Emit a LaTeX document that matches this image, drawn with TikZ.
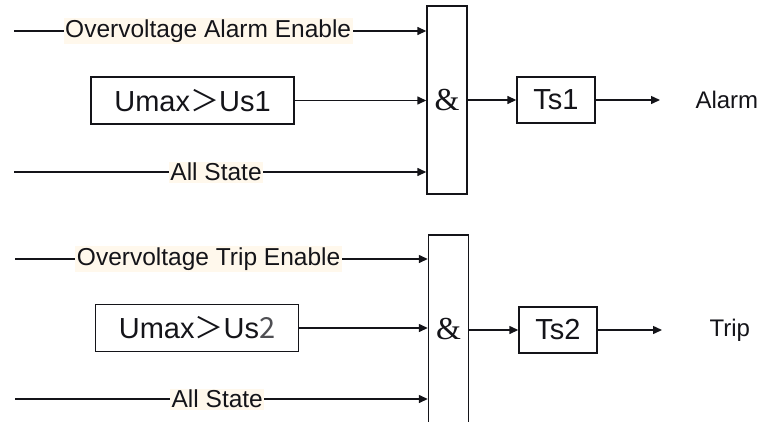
\documentclass[tikz,border=0pt]{standalone}
\usepackage{fontspec}
\setmainfont{Liberation Sans}
\newfontfamily\ampfont{Liberation Serif}
\newfontfamily\cjkfont{Noto Sans CJK SC}
\usetikzlibrary{arrows.meta}
\definecolor{ink}{RGB}{20,20,25}
\definecolor{labelbg}{RGB}{255,248,236}
\tikzset{
  box/.style={draw=ink, line width=1.4pt, inner sep=0pt, text=ink},
  conn/.style={draw=ink, line width=1.4pt, -{Triangle[length=9pt,width=8pt]}},
  lbl/.style={fill=labelbg, inner sep=1.5pt, text=ink, font=\fontsize{24.5}{28}\selectfont},
  big/.style={font=\fontsize{29}{33}\selectfont},
  andbox/.style={box, minimum width=40pt, minimum height=188pt, font=\ampfont\fontsize{32}{36}\selectfont},
  cmpbox/.style={box, big, minimum width=203pt, minimum height=47pt},
  tbox/.style={box, big, minimum width=78pt, minimum height=46pt},
  outtxt/.style={anchor=west, text=ink, font=\fontsize{24}{28}\selectfont},
}
\begin{document}
\begin{tikzpicture}[x=1pt,y=-1pt]
\useasboundingbox (0,0) rectangle (763,421);
% ---------- top group ----------
\node[andbox] (and1) at (447,100) {\&};
\node[cmpbox] (cmp1) at (192.5,100.5) {Umax{\cjkfont ＞}Us1};
\node[tbox] (ts1) at (556,100) {Ts1};
\coordinate (a1) at (14,31);
\coordinate (b1) at (14,172);
\coordinate (o1) at (660,100);
\node[outtxt] (alarm) at (692,100) {Alarm};
\draw[conn] (a1) -- node[lbl,pos=0.471] (l1) {Overvoltage Alarm Enable} (a1 -| and1.west);
\draw[conn] (cmp1.east) -- (cmp1.east -| and1.west);
\draw[conn] (b1) -- node[lbl,pos=0.49] (l2) {All State} (b1 -| and1.west);
\draw[conn] (and1.east |- ts1) -- (ts1.west);
\draw[conn] (ts1.east) -- (o1);
% ---------- bottom group ----------
\node[andbox] (and2) at (448.5,329) {\&};
\node[cmpbox] (cmp2) at (197,328) {Umax{\cjkfont ＞}Us{\color{ink!75}\cjkfont 2}};
\node[tbox] (ts2) at (558,330) {Ts2};
\coordinate (a2) at (15,259);
\coordinate (b2) at (15,399);
\coordinate (o2) at (662,330);
\node[outtxt] (trip) at (706,330) {Trip};
\draw[conn] (a2) -- node[lbl,pos=0.469] (l3) {Overvoltage Trip Enable} (a2 -| and2.west);
\draw[conn] (cmp2.east) -- (cmp2.east -| and2.west);
\draw[conn] (b2) -- node[lbl,pos=0.49] (l4) {All State} (b2 -| and2.west);
\draw[conn] (and2.east |- ts2) -- (ts2.west);
\draw[conn] (ts2.east) -- (o2);
\end{tikzpicture}
\end{document}
